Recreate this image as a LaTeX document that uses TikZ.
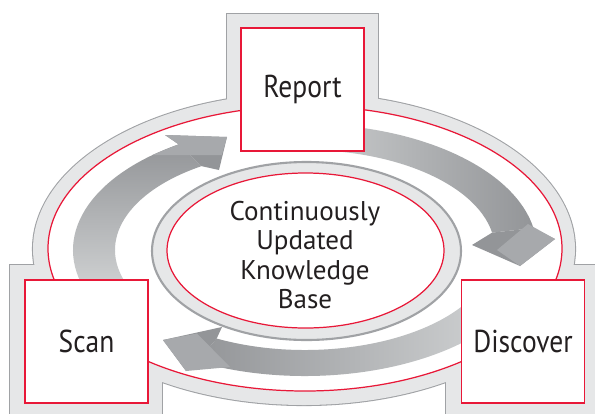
\documentclass[tikz,border=0pt]{standalone}
\usepackage{fontspec}
\setmainfont{PT Sans}
\newfontfamily\stagefont{PT Sans}[FakeStretch=0.87]
\usetikzlibrary{calc}

\definecolor{ringgray}{HTML}{E6E7E8}
\definecolor{rimgray}{HTML}{A0A2A5}
\definecolor{cyclered}{RGB}{232,24,56}
\definecolor{arrowdark}{HTML}{939598}
\definecolor{arrowface}{HTML}{A7A9AC}
\definecolor{arrowlight}{HTML}{D1D3D4}
\definecolor{inktext}{HTML}{231F20}

\begin{document}
\begin{tikzpicture}[
    x=0.02cm, y=0.02cm,
    ring rim/.style={draw=rimgray, line width=1.2pt},
    red rim/.style={draw=cyclered, line width=0.7pt, fill=white},
    stage/.style={red rim, minimum width=2.46cm, minimum height=2.46cm,
        inner sep=0pt, text=inktext, font=\stagefont\fontsize{18}{20}\selectfont},
    kb text/.style={text=inktext, align=center, inner sep=0pt,
        font=\fontsize{15.4}{16.6}\selectfont},
    ]

    \useasboundingbox (0,0) rectangle (595,-413);
    \clip (0,0) rectangle (595,-413);

    % outer ring plus the frames round the stages
    \draw[ring rim] (304,-249) ellipse [x radius=271, y radius=156];
    \draw[ring rim] (227,-14) rectangle (378,-140);
    \draw[ring rim] (10,-265) rectangle (162,-430);
    \draw[ring rim] (446,-265) rectangle (610,-430);
    \fill[ringgray] (304,-249) ellipse [x radius=271, y radius=156];
    \fill[ringgray] (227,-14) rectangle (378,-140);
    \fill[ringgray] (10,-265) rectangle (162,-430);
    \fill[ringgray] (446,-265) rectangle (610,-430);
    \draw[red rim] (305,-248.5) ellipse [x radius=257, y radius=142.5];

    % curved arrows
    \coordinate (kc) at (305,-250);
    \coordinate (sr o) at ($(kc)+(123:232 and 126)$);
    \coordinate (sr i) at ($(kc)+(123:190 and 100)$);
    \coordinate (rd o) at ($(kc)+(10:232 and 126)$);
    \coordinate (rd i) at ($(kc)+(10:190 and 100)$);
    \coordinate (ds o) at ($(kc)+(-117.7:232 and 126)$);
    \coordinate (ds i) at ($(kc)+(-117.7:190 and 100)$);

    % scan -> report
    \shade[bottom color=arrowlight, top color=arrowdark]
        ($(kc)+(200:232 and 126)$) arc[start angle=200, end angle=123, x radius=232, y radius=126]
        -- (sr i) arc[start angle=123, end angle=200, x radius=190, y radius=100] -- cycle;
    \fill[arrowdark] (sr o) -- (165,-135) -- (227,-137) -- (219,-170) -- (sr i) -- cycle;
    \fill[arrowface] (152.4,-155) -- (sr o) -- (165,-135) -- (227,-137) -- (221.8,-155) -- cycle;

    % report -> discover
    \shade[left color=arrowlight, middle color=arrowdark!70!arrowlight, right color=arrowdark]
        ($(kc)+(95:232 and 126)$) arc[start angle=95, end angle=10, x radius=232, y radius=126]
        -- (rd i) arc[start angle=10, end angle=95, x radius=190, y radius=100] -- cycle;
    \fill[arrowdark] (rd o) -- (555,-239) -- (520,-266) -- (472,-245) -- (rd i) -- cycle;
    \fill[arrowface] (528,-224) -- (555,-239) -- (520,-266) -- (497,-250) -- cycle;

    % discover -> scan
    \shade[left color=arrowdark, right color=arrowlight]
        ($(kc)+(-30:232 and 126)$) arc[start angle=-30, end angle=-117.7, x radius=232, y radius=126]
        -- (ds i) arc[start angle=-117.7, end angle=-30, x radius=190, y radius=100] -- cycle;
    \fill[arrowdark] (ds i) -- (222,-327) -- (163,-340) -- (186,-371) -- (ds o) -- cycle;
    \fill[arrowface] (163,-340) -- (197,-333.5) -- (230,-367) -- (186,-371) -- cycle;

    % knowledge base in the middle
    \draw[ring rim, fill=ringgray] (306.5,-251) ellipse [x radius=154.5, y radius=89];
    \draw[red rim] (305.5,-250.5) ellipse [x radius=138.5, y radius=77.5];
    \node[kb text] (kb) at (305,-255) {Continuously\\Updated\\Knowledge\\Base};

    % the three stages
    \node[stage] (report) at (302.5,-89.5) {Report};
    \node[stage] (scan) at (86.5,-341.5) {Scan};
    \node[stage] (discover) at (523,-341.5) {Discover};
\end{tikzpicture}
\end{document}
